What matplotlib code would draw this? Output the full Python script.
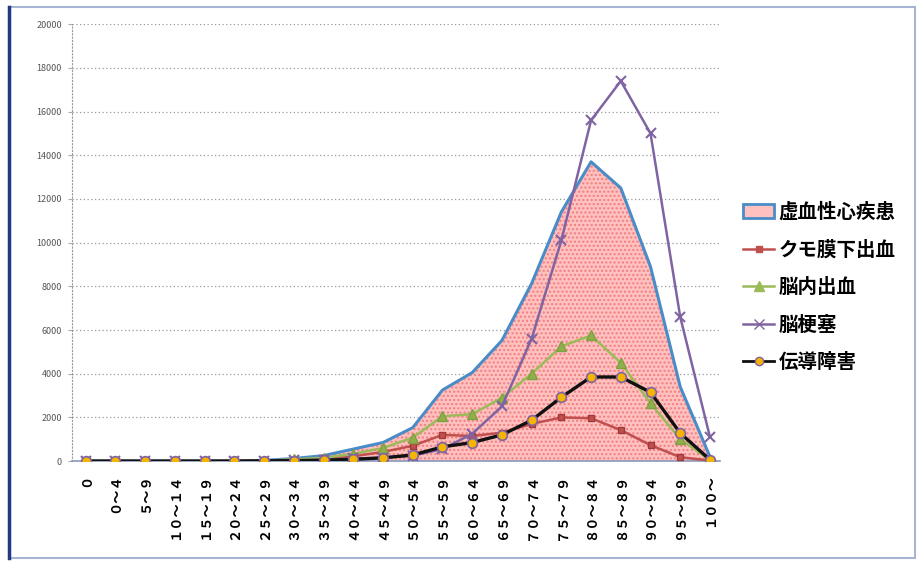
import numpy as np
import matplotlib.pyplot as plt
from matplotlib.patches import Rectangle
from matplotlib.lines import Line2D

plt.rcParams['font.family'] = ['Noto Sans CJK JP', 'DejaVu Sans']

# Data (full-width age labels as in the source)
age_groups = ["０", "０～４", "５～９", "１０～１４", "１５～１９", "２０～２４",
              "２５～２９", "３０～３４", "３５～３９", "４０～４４", "４５～４９",
              "５０～５４", "５５～５９", "６０～６４", "６５～６９", "７０～７４",
              "７５～７９", "８０～８４", "８５～８９", "９０～９４", "９５～９９",
              "１００～"]

ischemic = [0, 0, 0, 0, 0, 10, 30, 120, 250, 550, 850, 1530, 3250, 4050, 5520,
            8130, 11400, 13700, 12500, 8900, 3400, 200]
subarachnoid = [0, 0, 0, 0, 0, 10, 20, 60, 120, 220, 420, 700, 1200, 1150, 1300,
                1700, 2000, 1960, 1420, 730, 180, 20]
intracerebral = [0, 0, 0, 0, 0, 10, 20, 80, 150, 330, 600, 1070, 2050, 2150, 2900,
                 4000, 5250, 5750, 4500, 2650, 1000, 50]
infarction = [0, 0, 0, 0, 0, 0, 10, 30, 60, 120, 150, 250, 550, 1250, 2500,
              5600, 10100, 15600, 17400, 15000, 6600, 1100]
conduction = [0, 0, 0, 0, 0, 0, 10, 20, 40, 80, 150, 280, 650, 850, 1200,
              1870, 2920, 3850, 3850, 3150, 1280, 60]

labels = ["虚血性心疾患", "クモ膜下出血", "脳内出血", "脳梗塞", "伝導障害"]

x = np.arange(len(age_groups))

fig = plt.figure(figsize=(9.2, 5.63), dpi=100)
ax = fig.add_axes([0.078, 0.181, 0.705, 0.776])

# area series
ax.fill_between(x, ischemic, 0, facecolor='#FFC0C0', edgecolor='#F07E7E',
                hatch='....', linewidth=0, zorder=1)
ax.plot(x, ischemic, color='#4A8CC8', linewidth=2.2, zorder=2)

ax.plot(x, subarachnoid, color='#C0504D', linewidth=1.8, marker='s', markersize=5,
        markerfacecolor='#C0504D', markeredgecolor='#A03A3A', zorder=3)
ax.plot(x, intracerebral, color='#9BBB59', linewidth=1.8, marker='^', markersize=7,
        markerfacecolor='#8FB04A', markeredgecolor='#7FA040', zorder=3)
ax.plot(x, infarction, color='#8064A2', linewidth=1.8, marker='x', markersize=7,
        markeredgewidth=1.5, zorder=4)
ax.plot(x, conduction, color='#111111', linewidth=2.4, marker='o', markersize=7,
        markerfacecolor='#F5B400', markeredgecolor='#8064A2', markeredgewidth=1.2,
        zorder=5)

ax.set_xlim(-0.47, 21.35)
ax.set_ylim(0, 20000)
ax.set_yticks(np.arange(0, 20001, 2000))
ax.set_yticklabels([str(v) for v in range(0, 20001, 2000)], fontsize=6.5,
                   color='#555555')
ax.set_xticks(x)
ax.set_xticklabels(age_groups, rotation=90, fontsize=9.5, va='top',
                   fontweight='bold')
ax.tick_params(axis='x', length=0, pad=9)
ax.tick_params(axis='y', length=3, color='#aaaaaa', pad=4)
ax.grid(axis='y', linestyle=(0, (1, 2)), color='#999999', linewidth=0.9)
ax.set_axisbelow(True)
for side in ['top', 'right']:
    ax.spines[side].set_visible(False)
ax.spines['left'].set_linestyle((0, (1, 2)))
ax.spines['left'].set_color('#999999')
ax.spines['bottom'].set_color('#8899BB')
ax.spines['bottom'].set_linewidth(1.2)

handles = [
    Rectangle((0, 0), 1, 1, facecolor='#FFC0C0', edgecolor='#4A8CC8', linewidth=2),
    Line2D([], [], color='#C0504D', marker='s', markersize=5, linewidth=1.8),
    Line2D([], [], color='#9BBB59', marker='^', markersize=7, linewidth=1.8),
    Line2D([], [], color='#8064A2', marker='x', markersize=7, linewidth=1.8),
    Line2D([], [], color='#111111', marker='o', markersize=6, linewidth=2,
           markerfacecolor='#F5B400', markeredgecolor='#8064A2'),
]
fig.legend(handles, labels, loc='center left', bbox_to_anchor=(0.789, 0.49),
           frameon=False, handlelength=1.6, handletextpad=0.2,
           labelspacing=0.95, prop={'size': 14, 'weight': 'bold'})

# outer frame
fig.patches.append(Rectangle((0.01, 0.008), 0.985, 0.98, transform=fig.transFigure,
                             fill=False, edgecolor='#A8B4D4', linewidth=1.5))
fig.add_artist(Line2D([0.01, 0.01], [0.008, 0.988], transform=fig.transFigure,
                      color='#1F3A80', linewidth=2.5))

fig.savefig('out.png', dpi=100)
